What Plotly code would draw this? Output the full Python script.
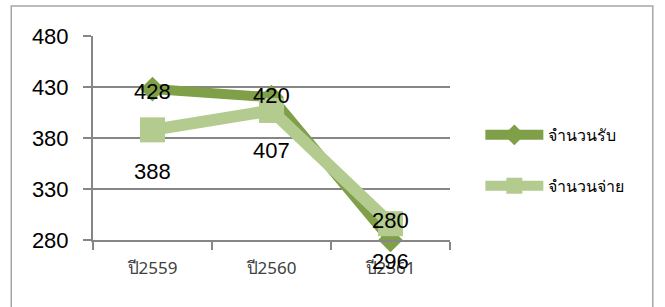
import plotly.graph_objects as go

categories = ["ปี2559", "ปี2560", "ปี2561"]
receive = [428, 420, 280]
pay = [388, 407, 296]
series_names = ["จำนวนรับ", "จำนวนจ่าย"]
y_ticks = [280, 330, 380, 430, 480]

dark = "#7F9F48"
light = "#B3CB8E"

fig = go.Figure()
fig.add_trace(go.Scatter(
    x=categories, y=receive, name=series_names[0], mode="lines+markers",
    line=dict(color=dark, width=10), marker=dict(symbol="diamond", size=19, color=dark),
    cliponaxis=False, legendgroup="a",
))
fig.add_trace(go.Scatter(
    x=categories, y=pay, name=series_names[1], mode="lines+markers",
    line=dict(color=light, width=12), marker=dict(symbol="square", size=25, color=light),
    cliponaxis=False, legendgroup="b",
))

label_shift_recv = [-2, 2, 20]
label_shift_pay = [-42, -40, -38]
for c, v, s in zip(categories, receive, label_shift_recv):
    fig.add_annotation(x=c, y=v, text=str(v), showarrow=False, yshift=s,
                       font=dict(size=22, color="black", family="Liberation Sans, Arial"))
for c, v, s in zip(categories, pay, label_shift_pay):
    fig.add_annotation(x=c, y=v, text=str(v), showarrow=False, yshift=s,
                       font=dict(size=22, color="black", family="Liberation Sans, Arial"))

fig.add_shape(type="rect", xref="paper", yref="paper",
              x0=-0.229, x1=1.568, y0=-0.4, y1=1.147,
              line=dict(color="#A6A6A6", width=1.5), layer="below")

fig.update_layout(
    width=665, height=307,
    margin=dict(l=93, r=215, t=36, b=67),
    paper_bgcolor="white", plot_bgcolor="white",
    showlegend=True,
    legend=dict(x=1.085, y=0.39, xanchor="left", yanchor="middle",
                font=dict(size=16, color="black", family="Tahoma, Noto Sans, sans-serif"),
                itemwidth=58, tracegroupgap=27, bgcolor="rgba(0,0,0,0)"),
    xaxis=dict(type="category", showgrid=False, showline=True, linecolor="#868686",
               linewidth=2, ticks="outside", tickson="boundaries", ticklen=8,
               tickcolor="#868686", tickwidth=2, ticklabelstandoff=12,
               tickfont=dict(size=17, color="#404040", family="Tahoma, Noto Sans, sans-serif"),
               range=[-0.5, 2.5]),
    yaxis=dict(range=[280, 480], tickvals=y_ticks, showgrid=True, gridcolor="#868686",
               gridwidth=1.5, showline=True, linecolor="#868686", linewidth=2,
               ticks="outside", ticklen=8, tickcolor="#868686", tickwidth=1.5,
               zeroline=False, ticklabelstandoff=10,
               tickfont=dict(size=22, color="black", family="Liberation Sans, Arial")),
)

fig.write_html("out.html", config={"displayModeBar": False},
               post_script="document.body.style.margin='0px';")
